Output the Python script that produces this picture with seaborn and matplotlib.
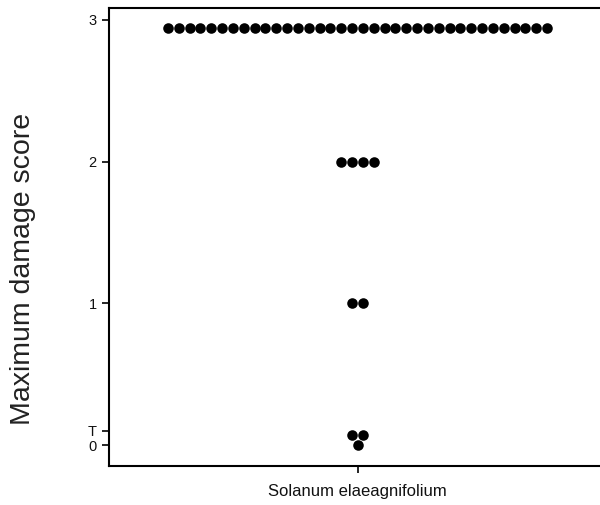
import numpy as np
import pandas as pd
import matplotlib
matplotlib.use("Agg")
import matplotlib.pyplot as plt
import seaborn as sns

# ---- data ----
species = ["Solanum elaeagnifolium"]
score_values = [2.94, 2.0, 1.0, 0.07, 0.0]   # observed vertical positions of dot rows
score_counts = [36, 4, 2, 2, 1]              # number of plants in each row
ytick_pos = [0, 0.1, 1, 2, 3]
ytick_labels = ["0", "T", "1", "2", "3"]
y_label = "Maximum damage score"

sns.set_theme(style="ticks")
plt.rcParams["font.family"] = ["Liberation Sans", "DejaVu Sans"]

W, H, DPI = 600, 505, 100
fig = plt.figure(figsize=(W / DPI, H / DPI), dpi=DPI)
ax_left, ax_bottom, ax_w, ax_h = 0.1817, 0.0772, 0.8283, 0.907
ax = fig.add_axes([ax_left, ax_bottom, ax_w, ax_h])

# centred beeswarm rows: spacing equal to the dot diameter
marker_pt = 7.6
spacing_px = 10.83
axes_px = ax_w * W
spacing = spacing_px / axes_px  # in x-data units (xlim spans 1.0)

rows = []
for v, n in zip(score_values, score_counts):
    offs = (np.arange(n) - (n - 1) / 2) * spacing
    for o in offs:
        rows.append({"x": o, "score": v, "species": species[0]})
df = pd.DataFrame(rows)

sns.scatterplot(data=df, x="x", y="score", color="black", s=marker_pt ** 2,
                linewidth=0, legend=False, ax=ax)

ax.set_xlim(-0.5, 0.5)
ax.set_ylim(-0.148, 3.084)
ax.set_xticks([0])
ax.set_xticklabels(species, fontsize=12, color="#111111")
ax.set_yticks(ytick_pos)
ax.set_yticklabels(ytick_labels, fontsize=10.5, color="#111111")
ax.set_xlabel("")
ax.set_ylabel(y_label, fontsize=20.5, color="#222222")
ax.yaxis.set_label_coords(-0.146, 0.43)

for side in ["left", "bottom", "top"]:
    ax.spines[side].set_visible(True)
    ax.spines[side].set_linewidth(1.5)
    ax.spines[side].set_color("black")
ax.spines["right"].set_visible(False)
ax.tick_params(axis="both", direction="out", length=5, width=1.2, color="black", pad=4)
ax.tick_params(axis="x", pad=8)

fig.savefig("out.png", dpi=DPI)
